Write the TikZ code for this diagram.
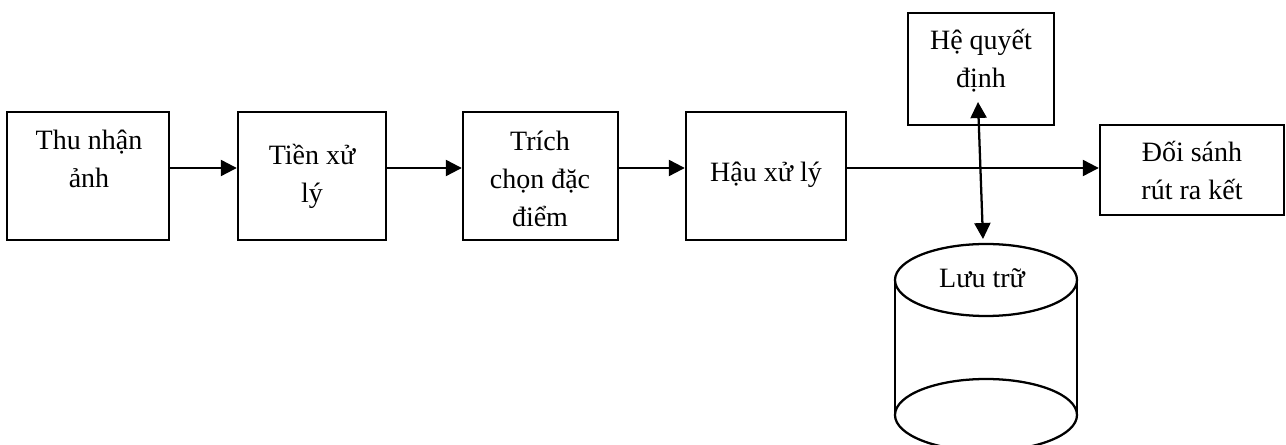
\documentclass[tikz,border=0pt]{standalone}
\usepackage{fontspec}
\setmainfont{Liberation Serif}
\usetikzlibrary{arrows.meta}
\begin{document}
\begin{tikzpicture}[x=0.75pt,y=-0.75pt,
  box/.style={draw,line width=1.8pt,inner sep=0pt},
  txt/.style={font=\fontsize{21}{28.5}\selectfont,align=center,anchor=base,inner sep=0pt},
  link/.style={line width=1.7pt,-{Triangle[length=12pt,width=12pt]}},
  twoway/.style={line width=1.7pt,{Triangle[length=12pt,width=12pt]}-{Triangle[length=12pt,width=12pt]}},
  drum/.style={line width=1.7pt}]
\useasboundingbox (0,0) rectangle (1286,445);
\clip (0,0) rectangle (1286,445);

% processing stages
\node[box,minimum width=121.5pt,minimum height=96pt] (b1) at (88,176) {};
\node[box,minimum width=111pt,minimum height=96pt] (b2) at (312,176) {};
\node[box,minimum width=116.25pt,minimum height=96pt] (b3) at (540.5,176) {};
\node[box,minimum width=120pt,minimum height=96pt] (b4) at (766,176) {};
\node[box,minimum width=109.5pt,minimum height=84pt] (b5) at (981,69) {};
\node[box,minimum width=138pt,minimum height=67.5pt] (b6) at (1192,170) {};

% labels (base anchor sits on the last line)
\node[txt] (t1) at (89,188) {Thu nhận\\ảnh};
\node[txt] (t2) at (312,203) {Tiền xử\\lý};
\node[txt] (t3) at (540,227) {Trích\\chọn đặc\\điểm};
\node[txt] (t4) at (766,182) {Hậu xử lý};
\node[txt] (t5) at (981,88) {Hệ quyết\\định};
\node[txt] (t6) at (1192,200) {Đối sánh\\rút ra kết};

% storage drum
\draw[drum] (986,280) ellipse [x radius=91, y radius=36];
\draw[drum] (986,415) ellipse [x radius=91, y radius=36];
\draw[drum] (895,280) -- (895,415);
\draw[drum] (1077,280) -- (1077,415);
\node[txt] (t7) at (982,288) {Lưu trữ};

% connectors
\coordinate (row) at (0,168);
\draw[link] (b1.east |- row) -- (b2.west |- row);
\draw[link] (b2.east |- row) -- (b3.west |- row);
\draw[link] (b3.east |- row) -- (b4.west |- row);
\draw[link] (b4.east |- row) -- (b6.west |- row);
\coordinate (dtop) at (978,102);
\coordinate (dbot) at (983,239);
\draw[twoway] (dtop) -- (dbot);
\end{tikzpicture}
\end{document}
